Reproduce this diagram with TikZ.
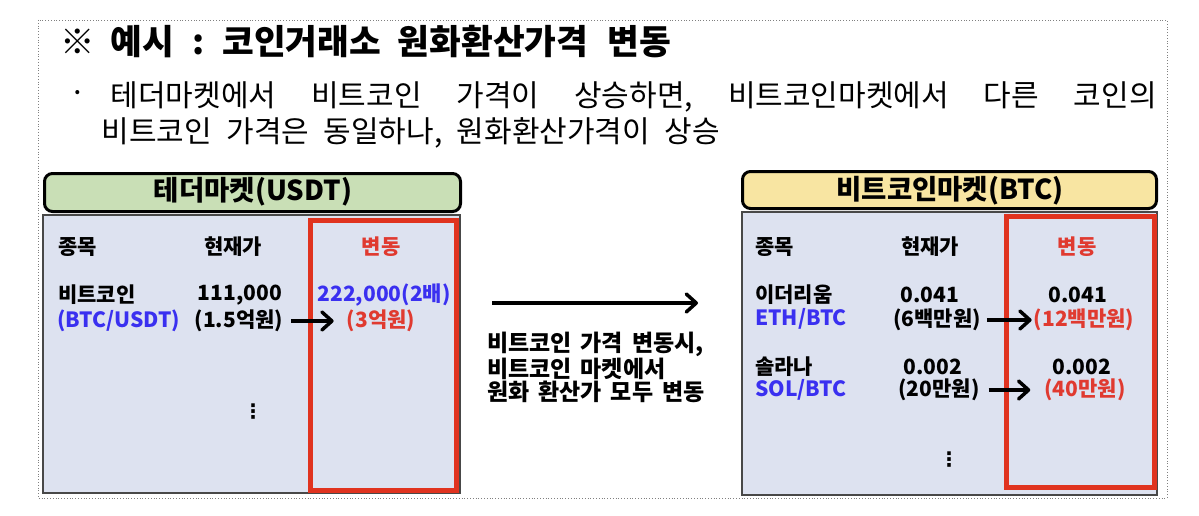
\documentclass[tikz,border=0pt]{standalone}
\usepackage{fontspec}
\setmainfont{Noto Sans CJK KR}
\newfontfamily\dvs{DejaVu Sans}
\usetikzlibrary{arrows.meta}
\definecolor{tblfill}{HTML}{DDE2F0}
\definecolor{grnfill}{HTML}{C9DFB6}
\definecolor{ylwfill}{HTML}{F8E5A2}
\definecolor{boxred}{HTML}{E0331F}
\definecolor{txtred}{HTML}{E03A30}
\definecolor{txtblue}{HTML}{3A30F0}
\definecolor{tblline}{HTML}{484848}
\tikzset{
  hdrbox/.style={draw=black, line width=3pt, rounded corners=8pt},
  tblbox/.style={draw=tblline, line width=1.5pt, fill=tblfill},
  redbox/.style={draw=boxred, line width=5pt},
  hdrtext/.style={inner sep=0pt, font=\fontsize{27.5}{32}\selectfont\bfseries},
  cell/.style={inner sep=0pt, font=\fontsize{21}{25}\selectfont\bfseries},
  redtxt/.style={text=txtred},
  bluetxt/.style={text=txtblue},
  arr/.style={line width=3.5pt, -{Straight Barb[round,length=10pt,width=18pt,line width=3.5pt]}},
  vdots/.style={inner sep=0pt, font=\dvs\bfseries\fontsize{20}{24}\selectfont},
  bodytext/.style={inner sep=0pt, font=\fontsize{30}{35}\selectfont},
}
\begin{document}
\begin{tikzpicture}[x=1pt,y=-1pt]
\useasboundingbox (0,0) rectangle (1199,516);
% outer dotted frame
\draw[gray, line width=0.8pt, dotted] (38,20) rectangle (1167,498);
% title
\node[anchor=west, inner sep=0pt, font=\fontsize{34.5}{40}\selectfont\bfseries] (title) at (60,42)
  {※\hspace{16pt}예시\hspace{18pt}:\hspace{18pt}코인거래소\hspace{17pt}원화환산가격\hspace{19pt}변동};
% bullet line
\node[bodytext] (bul) at (78,97) {·};
\node[bodytext, anchor=west] (l2) at (110.5,97)
  {\hbox to 1046pt{테더마켓에서\hfill 비트코인\hfill 가격이\hfill 상승하면,\hfill 비트코인마켓에서\hfill 다른\hfill 코인의}};
\node[bodytext, anchor=west] (l3) at (101.5,133)
  {\hbox to 618pt{비트코인\hfill 가격은\hfill 동일하나,\hfill 원화환산가격이\hfill 상승}};

% ---- left market ----
\draw[hdrbox, fill=grnfill] (44.5,173.5) rectangle (460.5,211.5);
\node[hdrtext] (lhdr) at (253,192) {테더마켓(USDT)};
\draw[tblbox] (43,215) rectangle (460,493);
\draw[redbox] (310.5,220.5) rectangle (456.5,490.5);
\node[cell, anchor=west] (lh1) at (58,247) {종목};
\node[cell] (lh2) at (233,247) {현재가};
\node[cell, redtxt] (lh3) at (381,247) {변동};
\node[cell, anchor=west] (ln1) at (58,295) {비트코인};
\node[cell, anchor=west, bluetxt] (lc1) at (57,321) {(BTC/USDT)};
\node[cell] (lp1) at (240,295) {111,000};
\node[cell] (lk1) at (239,321) {(1.5억원)};
\node[cell, bluetxt] (lv1) at (384,295) {222,000(2배)};
\node[cell, redtxt] (lw1) at (381,321) {(3억원)};
\draw[arr, shorten <=8pt, shorten >=13pt] (lk1.east) -- (lw1.west);
\node[vdots] (ldots) at (253,412) {⋮};

% ---- middle ----
\coordinate (ma) at (492,303);
\coordinate (mb) at (698,303);
\draw[arr] (ma) -- (mb);
\node[anchor=west, inner sep=0pt, align=left, font=\fontsize{23}{23.5}\selectfont\bfseries] (mtxt) at (487,367.5)
  {비트코인\hspace{9pt}가격\hspace{9pt}변동시,\\비트코인\hspace{9pt}마켓에서\\원화\hspace{9pt}환산가\hspace{9pt}모두\hspace{9pt}변동};

% ---- right market ----
\draw[hdrbox, fill=ylwfill] (742.5,171.5) rectangle (1156.5,208.5);
\node[hdrtext] (rhdr) at (950,191) {비트코인마켓(BTC)};
\draw[tblbox] (742,212) rectangle (1157,495);
\draw[redbox] (1006.5,216.5) rectangle (1154.5,487.5);
\node[cell, anchor=west] (rh1) at (755,247) {종목};
\node[cell] (rh2) at (930,247) {현재가};
\node[cell, redtxt] (rh3) at (1077,247) {변동};
\node[cell, anchor=west] (rn1) at (755,295) {이더리움};
\node[cell, anchor=west, bluetxt] (rc1) at (755,319) {ETH/BTC};
\node[cell] (rp1) at (930,295) {0.041};
\node[cell] (rk1) at (937,320) {(6백만원)};
\node[cell] (rv1) at (1078,295) {0.041};
\node[cell, redtxt] (rw1) at (1084,320) {(12백만원)};
\draw[arr, shorten <=6pt, shorten >=2pt] (rk1.east) -- (rw1.west);
\node[cell, anchor=west] (rn2) at (755,367) {솔라나};
\node[cell, anchor=west, bluetxt] (rc2) at (755,390) {SOL/BTC};
\node[cell] (rp2) at (933,367) {0.002};
\node[cell] (rk2) at (939,390) {(20만원)};
\node[cell] (rv2) at (1082,367) {0.002};
\node[cell, redtxt] (rw2) at (1085,390) {(40만원)};
\draw[arr, shorten <=9pt, shorten >=14pt] (rk2.east) -- (rw2.west);
\node[vdots] (rdots) at (949,460) {⋮};
\end{tikzpicture}
\end{document}
